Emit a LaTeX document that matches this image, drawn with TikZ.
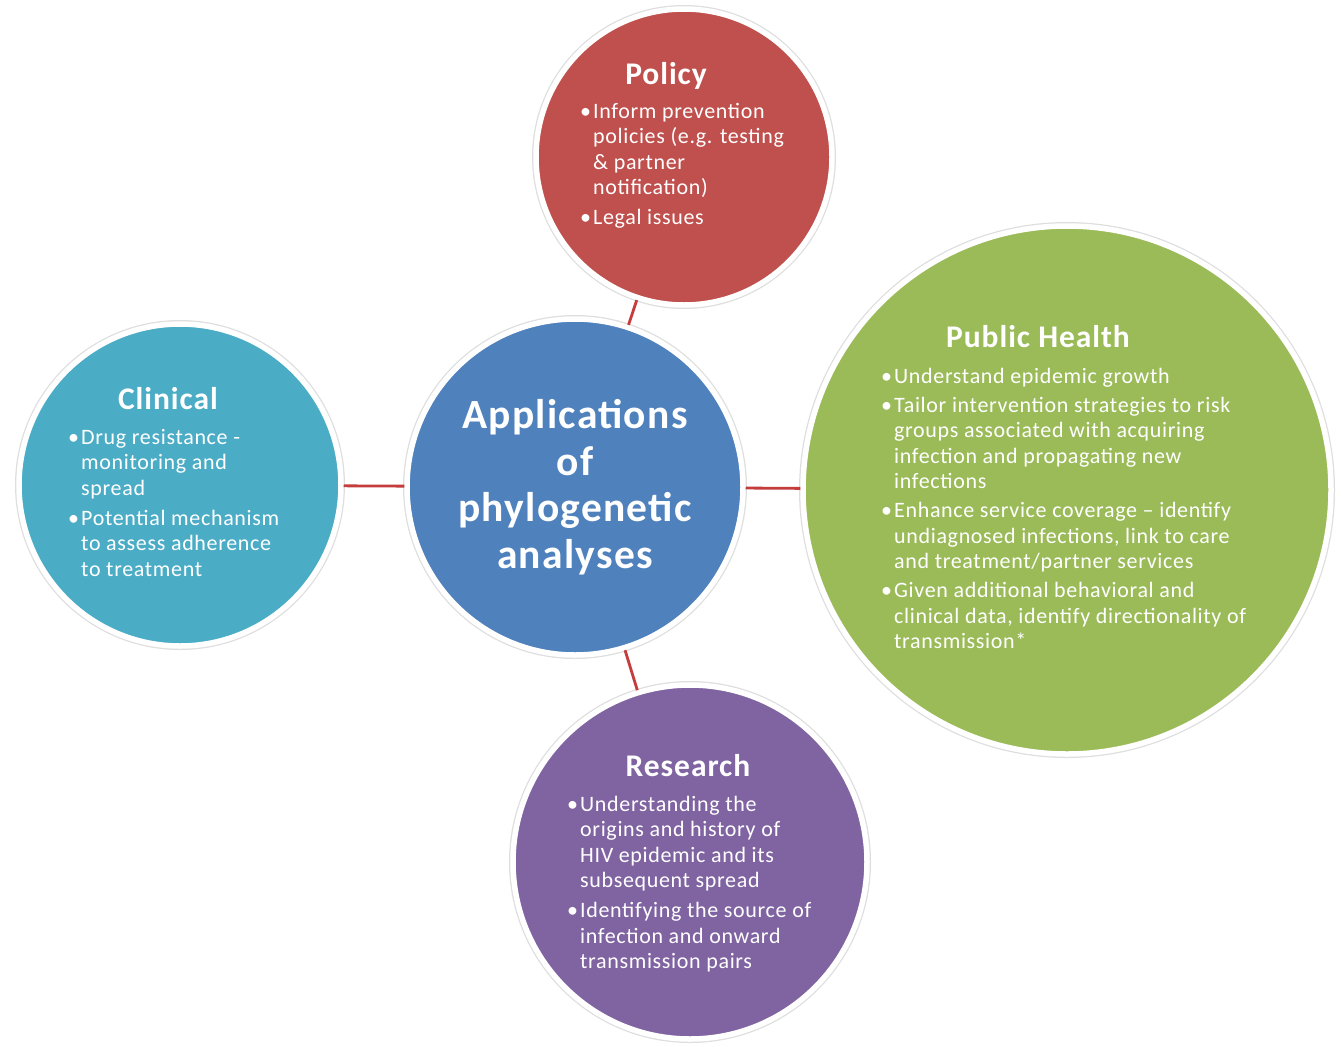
\documentclass[tikz,border=0pt]{standalone}
\usepackage{fontspec}
\setmainfont{Carlito}
\newfontfamily\wideCarlito[LetterSpace=3]{Carlito}
\definecolor{cRed}{HTML}{C0504D}
\definecolor{cBlue}{HTML}{4F81BD}
\definecolor{cCyan}{HTML}{4BACC6}
\definecolor{cGreen}{HTML}{9BBB59}
\definecolor{cPurple}{HTML}{8064A2}
\definecolor{cLink}{RGB}{196,60,60}
\newcommand{\bl}{\makebox[13pt][l]{\textbullet}}
\newcommand{\ind}{\makebox[13pt][l]{}}
\begin{document}
\begin{tikzpicture}[x=1pt,y=-1pt,
  bubble/.style={circle, inner sep=0pt, fill=#1, draw=white, line width=5.5pt,
    preaction={draw=black!13, line width=8pt}},
  ttl/.style={text=white, inner sep=0pt, anchor=base, font=\wideCarlito\fontsize{31.5}{36}\selectfont\bfseries},
  body/.style={text=white, inner sep=0pt, anchor=base west, font=\wideCarlito\fontsize{22}{25.5}\selectfont},
  link/.style={draw=cLink, line width=2.8pt}]
\useasboundingbox[fill=white] (0,0) rectangle (1342,1047);

\node[bubble=cRed, minimum size=296pt] (policy) at (684,157) {};
\node[bubble=cCyan, minimum size=322pt] (clinical) at (180,485) {};
\node[bubble=cBlue, minimum size=336pt] (center) at (575,487) {};
\node[bubble=cGreen, minimum size=528pt] (public) at (1067,490) {};
\node[bubble=cPurple, minimum size=354pt] (research) at (690,862) {};

\draw[link] (center) -- (policy);
\draw[link] (center) -- (clinical);
\draw[link] (center) -- (public);
\draw[link] (center) -- (research);

\node[text=white, inner sep=0pt, align=center, font=\wideCarlito\fontsize{41.5}{46.5}\selectfont\bfseries] (ctext) at (575,487)
  {Applications\\of\\phylogenetic\\analyses};

\node[ttl] (policyT) at (666,84) {Policy};
\node[body] (policyB) at (580,118) {\begin{tabular}[t]{@{}l@{}l@{}}
\bl & Inform prevention\\
\ind & policies (e.g. testing\\
\ind & \& partner\\
\ind & notification)\\[4.5pt]
\bl & Legal issues
\end{tabular}};

\node[ttl] (clinicalT) at (168,409) {Clinical};
\node[body] (clinicalB) at (68,444) {\begin{tabular}[t]{@{}l@{}l@{}}
\bl & Drug resistance -\\
\ind & monitoring and\\
\ind & spread\\[4.5pt]
\bl & Potential mechanism\\
\ind & to assess adherence\\
\ind & to treatment
\end{tabular}};

\node[ttl] (publicT) at (1038,347) {Public Health};
\node[body] (publicB) at (881,383) {\begin{tabular}[t]{@{}l@{}l@{}}
\bl & Understand epidemic growth\\[3.5pt]
\bl & Tailor intervention strategies to risk\\
\ind & groups associated with acquiring\\
\ind & infection and propagating new\\
\ind & infections\\[3.5pt]
\bl & Enhance service coverage – identify\\
\ind & undiagnosed infections, link to care\\
\ind & and treatment/partner services\\[3.5pt]
\bl & Given additional behavioral and\\
\ind & clinical data, identify directionality of\\
\ind & transmission*
\end{tabular}};

\node[ttl] (researchT) at (688,776) {Research};
\node[body] (researchB) at (567,811) {\begin{tabular}[t]{@{}l@{}l@{}}
\bl & Understanding the\\
\ind & origins and history of\\
\ind & HIV epidemic and its\\
\ind & subsequent spread\\[4.5pt]
\bl & Identifying the source of\\
\ind & infection and onward\\
\ind & transmission pairs
\end{tabular}};
\end{tikzpicture}
\end{document}
